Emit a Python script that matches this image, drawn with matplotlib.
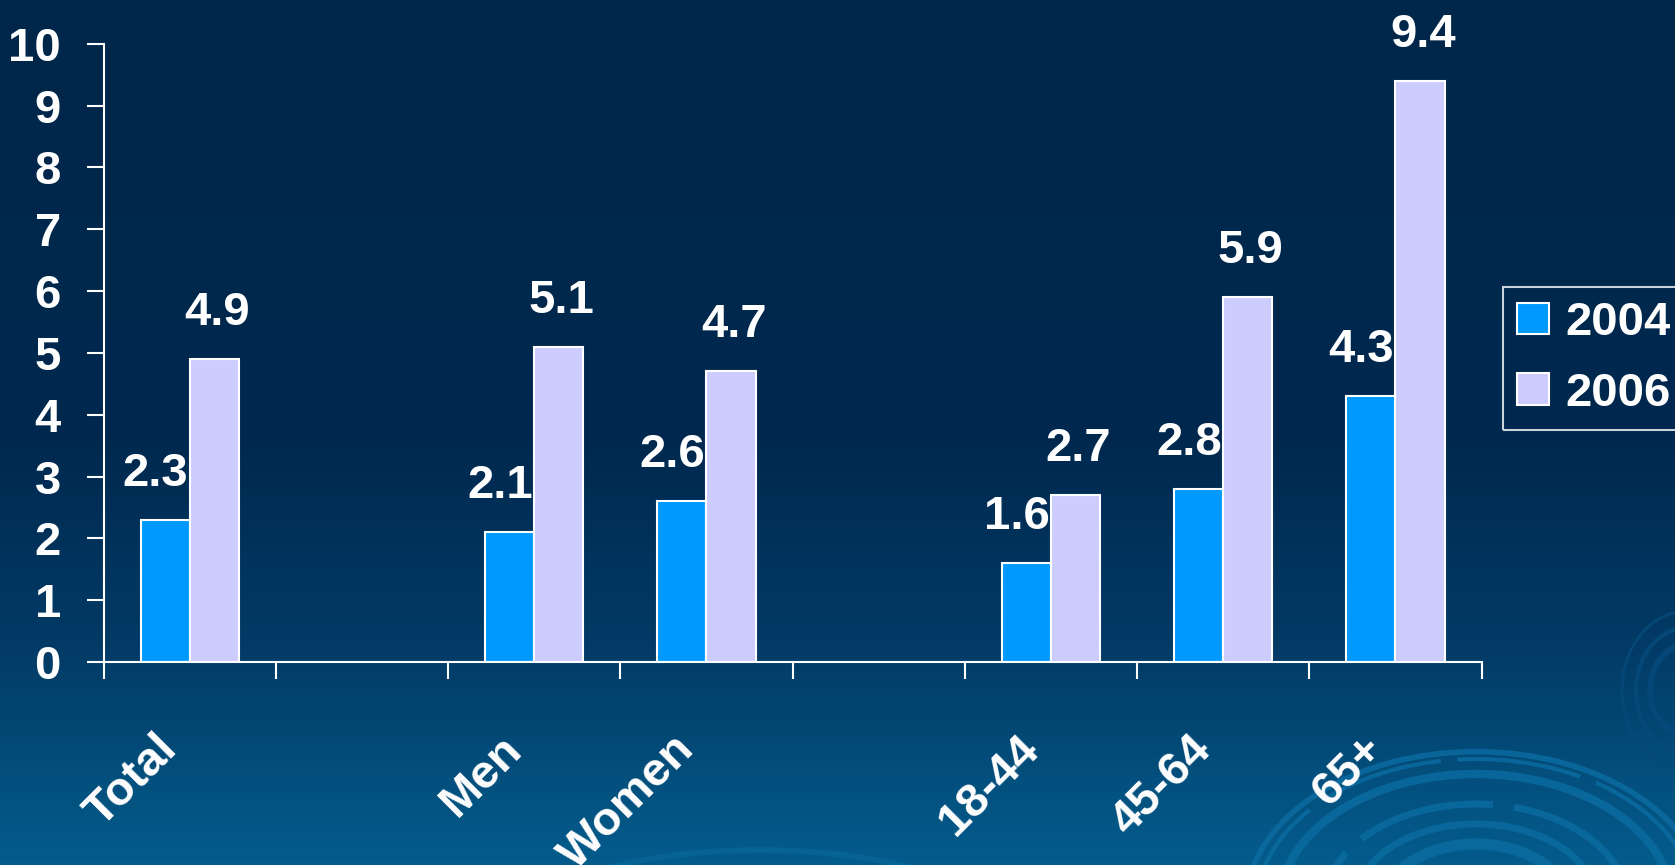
import matplotlib
matplotlib.use("Agg")
import matplotlib.pyplot as plt
import numpy as np
from matplotlib.patches import Arc
from matplotlib.colors import LinearSegmentedColormap
import matplotlib.transforms as mtrans

# data
categories = ["Total", "", "Men", "Women", "", "18-44", "45-64", "65+"]
series_names = ["2004", "2006"]
values_2004 = [2.3, None, 2.1, 2.6, None, 1.6, 2.8, 4.3]
values_2006 = [4.9, None, 5.1, 4.7, None, 2.7, 5.9, 9.4]
yticks = list(range(0, 11))

plt.rcParams['font.family'] = ['Liberation Sans', 'DejaVu Sans']
plt.rcParams['font.weight'] = 'bold'

W, H = 1675, 865
fig = plt.figure(figsize=(W / 100, H / 100), dpi=100)

# background gradient + decoration
bg = fig.add_axes([0, 0, 1, 1], zorder=-10)
bg.axis('off')
cmap = LinearSegmentedColormap.from_list(
    "bg", [(0.0, "#00264A"), (0.5, "#00284E"), (0.75, "#023B66"), (1.0, "#045C8C")])
grad = np.linspace(0, 1, 256).reshape(-1, 1)
bg.imshow(grad, cmap=cmap, aspect='auto', extent=[0, W, H, 0])
bg.set_xlim(0, W)
bg.set_ylim(H, 0)

ring_col = "#0B6BA0"
for r, lw, ls in [(146, 3, (0, (30, 4))), (131, 6, '-'), (101, 5, (0, (20, 3))),
                  (81, 5, '-'), (61, 8, '-'), (230 / 1.5, 4, '-')]:
    bg.add_patch(Arc((1476, 905), 2 * r * 1.5, 2 * r, color=ring_col, lw=lw,
                     linestyle=ls, alpha=0.85))
for r, lw in [(38, 4), (52, 3), (66, 2)]:
    bg.add_patch(Arc((1688, 690), 2 * r, 2 * r * 1.2, color="#06497A", lw=lw, alpha=0.9))
bg.add_patch(Arc((760, 960), 560, 220, color="#0A6A9E", lw=4, alpha=0.6))

# chart
ax = fig.add_axes([103.6 / W, 1 - 662 / H, 1378 / W, 618.2 / H])
ax.patch.set_alpha(0)

x = np.arange(len(categories))
w = 0.285
idx04 = [i for i, v in enumerate(values_2004) if v is not None]
idx06 = [i for i, v in enumerate(values_2006) if v is not None]

ax.bar(x[idx04] - w / 2, [values_2004[i] for i in idx04], w, color='#0099FF',
       edgecolor='white', linewidth=1.5, label=series_names[0])
ax.bar(x[idx06] + w / 2, [values_2006[i] for i in idx06], w, color='#CCCCFF',
       edgecolor='white', linewidth=1.5, label=series_names[1])

for i in idx04:
    ax.annotate(f"{values_2004[i]}", (x[i], values_2004[i]), xytext=(-1, 24.5),
                textcoords='offset points', ha='right', va='baseline',
                fontsize=34, color='white', fontweight='bold')
for i in idx06:
    ax.annotate(f"{values_2006[i]}", (x[i] + w / 2, values_2006[i]), xytext=(2, 24.5),
                textcoords='offset points', ha='center', va='baseline',
                fontsize=34, color='white', fontweight='bold')

ax.set_xlim(-0.5, len(categories) - 0.5)
ax.set_ylim(0, 10)
for s in ['top', 'right']:
    ax.spines[s].set_visible(False)
for s in ['left', 'bottom']:
    ax.spines[s].set_color('white')
    ax.spines[s].set_linewidth(1.5)

ax.set_yticks(yticks)
ax.tick_params(axis='y', colors='white', length=12.2, width=1.5, pad=18.5,
               labelsize=34)
ax.set_xticks(x)
ax.set_xticklabels(categories)
ax.set_xticks(np.arange(-0.5, len(categories)), minor=True)
ax.tick_params(axis='x', which='major', length=0, pad=58, labelsize=34,
               labelcolor='white')
ax.tick_params(axis='x', which='minor', length=12.2, width=1.5, color='white')
shift = mtrans.ScaledTranslation(-19 / 100, 0, fig.dpi_scale_trans)
for lab in ax.get_xticklabels():
    lab.set_rotation(45)
    lab.set_rotation_mode('anchor')
    lab.set_ha('right')
    lab.set_va('center')
    lab.set_fontweight('bold')
    lab.set_transform(lab.get_transform() + shift)
for lab in ax.get_yticklabels():
    lab.set_fontweight('bold')

leg = ax.legend(loc='upper left', bbox_to_anchor=(1503 / W, 1 - 287 / H),
                bbox_transform=fig.transFigure, borderaxespad=0, fontsize=34,
                frameon=True, fancybox=False, handlelength=0.68, handleheight=0.64,
                handletextpad=0.34, labelspacing=0.56, borderpad=0.3)
leg.get_frame().set_facecolor('none')
leg.get_frame().set_edgecolor('white')
leg.get_frame().set_linewidth(1.5)
for t in leg.get_texts():
    t.set_color('white')
    t.set_fontweight('bold')

fig.savefig('out.png', dpi=100)
